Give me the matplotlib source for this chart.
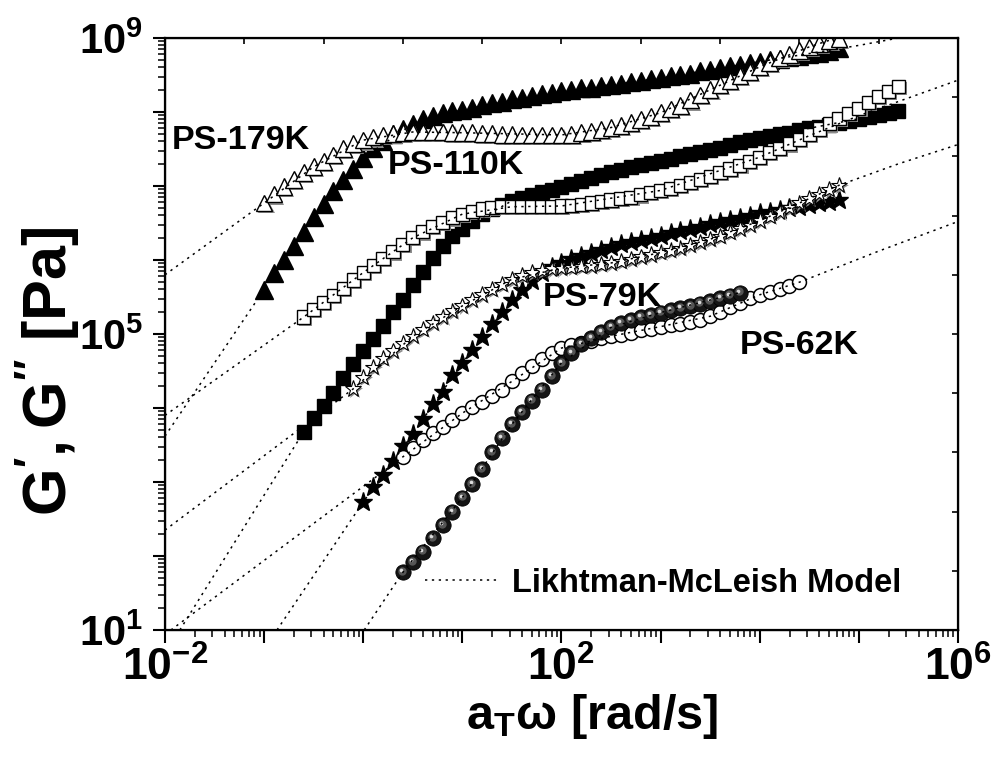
import numpy as np
import matplotlib
matplotlib.use("Agg")
import matplotlib.pyplot as plt
import matplotlib.patheffects as pe
import matplotlib.transforms as mtransforms
from matplotlib.lines import Line2D
from matplotlib.ticker import LogLocator, FuncFormatter, NullFormatter

plt.rcParams["font.family"] = ["Liberation Sans", "DejaVu Sans"]
plt.rcParams["font.weight"] = "bold"
plt.rcParams["axes.labelweight"] = "bold"
plt.rcParams["mathtext.fontset"] = "custom"
plt.rcParams["mathtext.rm"] = "Liberation Sans:bold"
plt.rcParams["mathtext.bf"] = "Liberation Sans:bold"
plt.rcParams["mathtext.it"] = "Liberation Sans:bold"
plt.rcParams["mathtext.default"] = "bf"

# all values are log10 (frequency in rad/s, modulus in Pa)
# PS-179K
w179 = [-1.0, -0.9, -0.8, -0.7, -0.6, -0.5, -0.4, -0.3, -0.2, -0.1, 0.0, 0.1, 0.2, 0.3, 0.4,
        0.5, 0.6, 0.7, 0.8, 0.9, 1.0, 1.1, 1.2, 1.3, 1.4, 1.5, 1.6, 1.7, 1.8, 1.9, 2.0, 2.1,
        2.2, 2.3, 2.4, 2.5, 2.6, 2.7, 2.8, 2.9, 3.0, 3.1, 3.2, 3.3, 3.4, 3.5, 3.6, 3.7, 3.8,
        3.9, 4.0, 4.1, 4.2, 4.3, 4.4, 4.5, 4.6, 4.7, 4.8]
g1_179 = [5.60, 5.83, 6.00, 6.19, 6.38, 6.58, 6.76, 6.93, 7.08, 7.23, 7.38, 7.51, 7.61, 7.70,
          7.77, 7.84, 7.90, 7.94, 7.98, 8.01, 8.03, 8.06, 8.09, 8.12, 8.14, 8.17, 8.19, 8.21,
          8.24, 8.26, 8.28, 8.30, 8.32, 8.33, 8.35, 8.37, 8.38, 8.40, 8.42, 8.44, 8.46, 8.48,
          8.50, 8.52, 8.55, 8.57, 8.60, 8.62, 8.64, 8.66, 8.68, 8.70, 8.72, 8.74, 8.76, 8.78,
          8.80, 8.83, 8.86]
g2_179 = [6.77, 6.89, 6.99, 7.09, 7.18, 7.26, 7.33, 7.42, 7.51, 7.57, 7.62, 7.66, 7.69, 7.71,
          7.72, 7.73, 7.73, 7.73, 7.73, 7.72, 7.72, 7.72, 7.71, 7.71, 7.70, 7.70, 7.69, 7.69,
          7.69, 7.69, 7.69, 7.70, 7.72, 7.74, 7.76, 7.79, 7.82, 7.86, 7.90, 7.94, 7.99, 8.04,
          8.09, 8.16, 8.23, 8.30, 8.37, 8.43, 8.49, 8.55, 8.61, 8.67, 8.73, 8.78, 8.83, 8.88,
          8.93, 8.97, 8.99]

# PS-110K
w110 = [-0.6, -0.5, -0.4, -0.3, -0.2, -0.1, 0.0, 0.1, 0.2, 0.3, 0.4, 0.5, 0.6, 0.7, 0.8, 0.9,
        1.0, 1.1, 1.2, 1.3, 1.4, 1.5, 1.6, 1.7, 1.8, 1.9, 2.0, 2.1, 2.2, 2.3, 2.4, 2.5, 2.6,
        2.7, 2.8, 2.9, 3.0, 3.1, 3.2, 3.3, 3.4, 3.5, 3.6, 3.7, 3.8, 3.9, 4.0, 4.1, 4.2, 4.3,
        4.4, 4.5, 4.6, 4.7, 4.8, 4.9, 5.0, 5.1, 5.2, 5.3, 5.4]
g1_110 = [3.68, 3.87, 4.03, 4.20, 4.40, 4.60, 4.77, 4.93, 5.11, 5.30, 5.46, 5.66, 5.84, 6.03,
          6.19, 6.32, 6.42, 6.53, 6.62, 6.69, 6.75, 6.80, 6.84, 6.88, 6.92, 6.95, 6.99, 7.03,
          7.07, 7.11, 7.15, 7.19, 7.22, 7.25, 7.28, 7.31, 7.34, 7.37, 7.40, 7.43, 7.46, 7.49,
          7.52, 7.56, 7.59, 7.62, 7.65, 7.67, 7.70, 7.72, 7.75, 7.78, 7.80, 7.83, 7.85, 7.88,
          7.91, 7.93, 7.96, 7.99, 8.02]
g2_110 = [5.23, 5.33, 5.43, 5.52, 5.62, 5.73, 5.83, 5.93, 6.02, 6.11, 6.21, 6.30, 6.38, 6.45,
          6.51, 6.57, 6.62, 6.66, 6.69, 6.71, 6.72, 6.72, 6.72, 6.72, 6.72, 6.72, 6.73, 6.74,
          6.75, 6.77, 6.79, 6.81, 6.83, 6.85, 6.88, 6.91, 6.94, 6.97, 7.01, 7.05, 7.09, 7.13,
          7.18, 7.23, 7.28, 7.33, 7.39, 7.45, 7.51, 7.57, 7.63, 7.70, 7.77, 7.84, 7.91, 7.98,
          8.05, 8.13, 8.21, 8.28, 8.35]

# PS-79K
w79_g1 = [0.0, 0.1, 0.2, 0.3, 0.4, 0.5, 0.6, 0.7, 0.8, 0.9, 1.0, 1.1, 1.2, 1.3, 1.4, 1.5, 1.6,
          1.7, 1.8, 1.9, 2.0, 2.1, 2.2, 2.3, 2.4, 2.5, 2.6, 2.7, 2.8, 2.9, 3.0, 3.1, 3.2, 3.3,
          3.4, 3.5, 3.6, 3.7, 3.8, 3.9, 4.0, 4.1, 4.2, 4.3, 4.4, 4.5, 4.6, 4.7, 4.8]
g1_79 = [2.73, 2.93, 3.09, 3.28, 3.48, 3.65, 3.85, 4.05, 4.22, 4.44, 4.61, 4.78, 4.96, 5.13,
         5.30, 5.46, 5.60, 5.72, 5.82, 5.90, 5.96, 6.01, 6.05, 6.09, 6.13, 6.17, 6.21, 6.24,
         6.27, 6.30, 6.33, 6.36, 6.39, 6.42, 6.45, 6.48, 6.51, 6.54, 6.57, 6.60, 6.63, 6.65,
         6.68, 6.70, 6.72, 6.75, 6.77, 6.79, 6.81]
w79_g2 = [-0.1, 0.0, 0.1, 0.2, 0.3, 0.4, 0.5, 0.6, 0.7, 0.8, 0.9, 1.0, 1.1, 1.2, 1.3, 1.4, 1.5,
          1.6, 1.7, 1.8, 1.9, 2.0, 2.1, 2.2, 2.3, 2.4, 2.5, 2.6, 2.7, 2.8, 2.9, 3.0, 3.1, 3.2,
          3.3, 3.4, 3.5, 3.6, 3.7, 3.8, 3.9, 4.0, 4.1, 4.2, 4.3, 4.4, 4.5, 4.6, 4.7, 4.8]
g2_79 = [4.26, 4.41, 4.55, 4.67, 4.77, 4.87, 4.97, 5.06, 5.15, 5.23, 5.31, 5.38, 5.46, 5.53,
         5.60, 5.67, 5.74, 5.79, 5.83, 5.86, 5.88, 5.89, 5.90, 5.91, 5.92, 5.94, 5.96, 5.98,
         6.01, 6.04, 6.07, 6.10, 6.13, 6.16, 6.20, 6.24, 6.28, 6.32, 6.37, 6.42, 6.47, 6.53,
         6.59, 6.65, 6.71, 6.77, 6.83, 6.89, 6.95, 7.01]

# PS-62K
w62_g1 = [0.4, 0.5, 0.6, 0.7, 0.8, 0.9, 1.0, 1.1, 1.2, 1.3, 1.4, 1.5, 1.6, 1.7, 1.8, 1.9, 2.0,
          2.1, 2.2, 2.3, 2.4, 2.5, 2.6, 2.7, 2.8, 2.9, 3.0, 3.1, 3.2, 3.3, 3.4, 3.5, 3.6, 3.7,
          3.8]
g1_62 = [1.78, 1.92, 2.06, 2.24, 2.42, 2.60, 2.79, 2.97, 3.17, 3.40, 3.60, 3.78, 3.95, 4.10,
         4.25, 4.43, 4.61, 4.75, 4.86, 4.95, 5.03, 5.09, 5.15, 5.19, 5.23, 5.26, 5.29, 5.32,
         5.35, 5.38, 5.41, 5.44, 5.48, 5.52, 5.56]
w62_g2 = [0.4, 0.5, 0.6, 0.7, 0.8, 0.9, 1.0, 1.1, 1.2, 1.3, 1.4, 1.5, 1.6, 1.7, 1.8, 1.9, 2.0,
          2.1, 2.2, 2.3, 2.4, 2.5, 2.6, 2.7, 2.8, 2.9, 3.0, 3.1, 3.2, 3.3, 3.4, 3.5, 3.6, 3.7,
          3.8, 3.9, 4.0, 4.1, 4.2, 4.3, 4.4]
g2_62 = [3.34, 3.46, 3.57, 3.66, 3.74, 3.84, 3.93, 4.01, 4.08, 4.16, 4.25, 4.36, 4.47, 4.57,
         4.66, 4.74, 4.81, 4.85, 4.88, 4.91, 4.94, 4.97, 4.99, 5.02, 5.05, 5.07, 5.10, 5.12,
         5.14, 5.16, 5.19, 5.24, 5.30, 5.36, 5.42, 5.48, 5.53, 5.57, 5.61, 5.65, 5.70]

# Likhtman-McLeish model curves (knots, log10)
m179_g1_w = [-2.0, -1.0, -0.5, 0.0, 0.5, 1.0, 2.0, 3.0, 4.0, 5.0, 5.6]
m179_g1 = [3.62, 5.60, 6.58, 7.38, 7.84, 8.03, 8.28, 8.46, 8.68, 8.90, 9.05]
m179_g2_w = [-2.0, -1.0, -0.5, 0.0, 0.5, 1.0, 2.0, 2.5, 3.0, 3.5, 4.0, 4.5, 5.0]
m179_g2 = [5.80, 6.77, 7.26, 7.62, 7.73, 7.72, 7.69, 7.79, 7.99, 8.30, 8.61, 8.88, 9.10]
m110_g1_w = [-1.85, -0.6, 0.0, 0.5, 1.0, 1.5, 2.0, 3.0, 4.0, 5.0, 5.4]
m110_g1 = [1.00, 3.68, 4.77, 5.66, 6.42, 6.80, 6.99, 7.34, 7.65, 7.91, 8.02]
m110_g2_w = [-2.0, -0.6, 0.0, 0.5, 1.0, 1.5, 2.0, 3.0, 4.0, 4.5, 5.0, 5.5, 6.0]
m110_g2 = [3.90, 5.23, 5.83, 6.30, 6.62, 6.72, 6.73, 6.94, 7.39, 7.68, 7.95, 8.19, 8.43]
m79_g1_w = [-0.87, 0.0, 0.5, 1.0, 1.5, 2.0, 3.0, 4.0, 4.8]
m79_g1 = [1.00, 2.73, 3.65, 4.61, 5.46, 5.96, 6.33, 6.63, 6.81]
m79_g2_w = [-2.0, -0.1, 0.5, 1.0, 1.5, 2.0, 2.5, 3.0, 3.5, 4.0, 4.8, 5.4, 6.0]
m79_g2 = [2.35, 4.26, 4.97, 5.38, 5.74, 5.89, 5.96, 6.10, 6.28, 6.53, 7.01, 7.30, 7.56]
m62_g1_w = [0.01, 0.4, 1.0, 1.5, 2.0, 2.5, 3.0, 3.8]
m62_g1 = [1.00, 1.78, 2.79, 3.78, 4.61, 5.09, 5.29, 5.56]
m62_g2_w = [-1.94, 0.4, 1.0, 1.5, 2.0, 2.5, 3.0, 3.5, 4.0, 4.4, 5.2, 6.0]
m62_g2 = [1.00, 3.34, 3.93, 4.36, 4.81, 4.97, 5.10, 5.24, 5.53, 5.70, 6.12, 6.52]


def lg(v):
    return np.power(10.0, np.asarray(v))


fig = plt.figure(figsize=(9.92, 7.63), dpi=100)
ax = fig.add_axes([0.1663, 0.1743, 0.7994, 0.7759])
ax.set_xscale("log")
ax.set_yscale("log")
ax.set_xlim(1e-2, 1e6)
ax.set_ylim(1e1, 1e9)

shadow = [pe.SimplePatchShadow(offset=(1.5, -1.5), shadow_rgbFace="0.55", alpha=1.0), pe.Normal()]
dots = (0, (1.5, 3))

# PS-179K
ax.plot(lg(w179), lg(g1_179), ls="none", marker="^", ms=12.5, mfc="k", mec="k", zorder=3)
ax.plot(lg(w179), lg(g2_179), ls="none", marker="^", ms=12, mfc="white", mec="k", mew=1.0,
        path_effects=shadow, zorder=3)
# PS-110K
ax.plot(lg(w110), lg(g1_110), ls="none", marker="s", ms=10, mfc="k", mec="k", zorder=3)
ax.plot(lg(w110), lg(g2_110), ls="none", marker="s", ms=9.5, mfc="white", mec="k", mew=1.0,
        path_effects=shadow, zorder=3)
# PS-79K
ax.plot(lg(w79_g1), lg(g1_79), ls="none", marker="*", ms=14, mfc="k", mec="k", zorder=3)
ax.plot(lg(w79_g2), lg(g2_79), ls="none", marker="*", ms=12, mfc="white", mec="k", mew=0.8,
        path_effects=shadow, zorder=3)
# PS-62K: open circles and shaded spheres
ax.plot(lg(w62_g2), lg(g2_62), ls="none", marker="o", ms=10, mfc="white", mec="k", mew=1.1,
        zorder=3)
hl1 = mtransforms.offset_copy(ax.transData, fig=fig, x=-0.8, y=1.2, units="dots")
hl2 = mtransforms.offset_copy(ax.transData, fig=fig, x=-1.5, y=2.0, units="dots")
ax.plot(lg(w62_g1), lg(g1_62), ls="none", marker="o", ms=11, mfc="#151515", mec="k", mew=0.6,
        zorder=3)
ax.plot(lg(w62_g1), lg(g1_62), ls="none", marker="o", ms=6, mfc="#555555", mec="none",
        transform=hl1, zorder=3)
ax.plot(lg(w62_g1), lg(g1_62), ls="none", marker="o", ms=2.6, mfc="#dcdcdc", mec="none",
        transform=hl2, zorder=3)

# model lines
models = [(m179_g1_w, m179_g1), (m179_g2_w, m179_g2), (m110_g1_w, m110_g1),
          (m110_g2_w, m110_g2), (m79_g1_w, m79_g1), (m79_g2_w, m79_g2),
          (m62_g1_w, m62_g1), (m62_g2_w, m62_g2)]
for mw, mg in models:
    ax.plot(lg(mw), lg(mg), color="k", lw=1.1, ls=dots, zorder=4)

# axis ticks
labelled_x = (-2, 2, 6)
labelled_y = (1, 5, 9)
ax.xaxis.set_major_locator(LogLocator(base=10, numticks=30))
ax.yaxis.set_major_locator(LogLocator(base=10, numticks=30))
ax.xaxis.set_minor_locator(LogLocator(base=10, subs=np.arange(2, 10), numticks=200))
ax.yaxis.set_minor_locator(LogLocator(base=10, subs=np.arange(2, 10), numticks=200))
ax.xaxis.set_minor_formatter(NullFormatter())
ax.yaxis.set_minor_formatter(NullFormatter())
ax.xaxis.set_major_formatter(FuncFormatter(
    lambda v, p: r"$10^{%d}$" % round(np.log10(v)) if round(np.log10(v)) in labelled_x else ""))
ax.yaxis.set_major_formatter(FuncFormatter(
    lambda v, p: r"$10^{%d}$" % round(np.log10(v)) if round(np.log10(v)) in labelled_y else ""))
ax.tick_params(which="major", direction="out", length=9, width=1.5, top=False, right=False)
ax.tick_params(which="minor", direction="out", length=5, width=1.1, top=False, right=False)
ax.tick_params(axis="x", which="major", labelsize=32, pad=3)
ax.tick_params(axis="y", which="major", labelsize=30, pad=7)
for s in ax.spines.values():
    s.set_linewidth(1.6)

# small inward ticks on top and right
axt = ax.twiny()
axt.set_xlim(0, 1)
axt.set_xticks(np.linspace(0, 1, 11))
axt.tick_params(direction="in", length=4, width=1.2, labeltop=False)
axr = ax.twinx()
axr.set_yscale("linear")
axr.set_ylim(0, 1)
axr.set_yticks(np.linspace(0, 1, 11))
axr.tick_params(direction="in", length=4, width=1.2, labelright=False)

ax.set_xlabel(r"a$_{T}$ω [rad/s]", fontsize=35, fontweight="bold")
ax.xaxis.set_label_coords(0.538, -0.105)
ax.set_ylabel(r"$G^{\prime}, G^{\prime\prime}$ [Pa]", fontsize=44, fontweight="bold")
ax.yaxis.set_label_coords(-0.105, 0.436)

# curve labels
ax.text(lg(-1.93), lg(7.62), "PS-179K", fontsize=24.5, ha="left", va="center")
ax.text(lg(0.25), lg(7.28), "PS-110K", fontsize=24.5, ha="left", va="center")
ax.text(lg(1.81), lg(5.50), "PS-79K", fontsize=24.5, ha="left", va="center")
ax.text(lg(3.80), lg(4.85), "PS-62K", fontsize=24.5, ha="left", va="center")

handle = Line2D([], [], color="k", lw=1.1, ls=dots)
ax.legend([handle], ["Likhtman-McLeish Model"], loc="center left",
          bbox_to_anchor=(0.328, 0.079), frameon=False, fontsize=23.5, handlelength=2.3,
          handletextpad=0.35, borderpad=0, borderaxespad=0)

fig.savefig("out.png", dpi=100)
